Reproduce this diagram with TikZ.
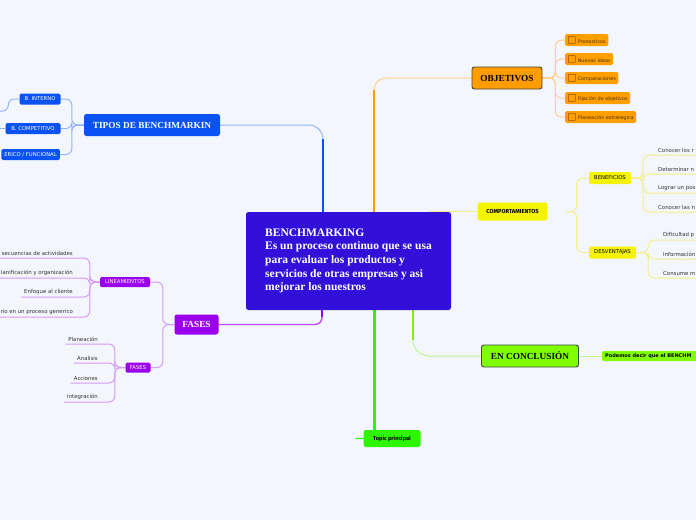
\documentclass[tikz,border=0pt]{standalone}
\usepackage{fontspec}
\setmainfont{Liberation Serif}
\setsansfont{DejaVu Sans}
\newfontfamily\firafont{Fira Sans}
\usepackage{tikz}
\usetikzlibrary{backgrounds}
\definecolor{bgcol}{HTML}{F3F6FD}
\definecolor{centfill}{HTML}{3210D9}
\definecolor{tipblue}{HTML}{0A52F2}
\definecolor{bluelite}{HTML}{93B4F6}
\definecolor{objorange}{HTML}{FF9C00}
\definecolor{objfill}{HTML}{FFA000}
\definecolor{objdark}{HTML}{B86B00}
\definecolor{objtext}{HTML}{4A3000}
\definecolor{objlite}{HTML}{FFD08A}
\definecolor{compyel}{HTML}{F4F400}
\definecolor{yellite}{HTML}{F4EE8C}
\definecolor{fasviol}{HTML}{9B00EE}
\definecolor{violite}{HTML}{D59AF5}
\definecolor{econlime}{HTML}{80FF00}
\definecolor{limetrunk}{HTML}{86EE10}
\definecolor{limelite}{HTML}{BFF58A}
\definecolor{topgreen}{HTML}{2EF500}
\definecolor{boxedge}{HTML}{444444}
\definecolor{itemgray}{HTML}{333333}
\newcommand{\tickbox}{{\fboxsep=0pt\fboxrule=0.7pt\fcolorbox{objdark}{objfill}{\rule{0pt}{6.2pt}\hspace{6.2pt}}}}
\tikzset{
  centrebox/.style={rectangle, rounded corners=2.5pt, fill=centfill, text=white,
    font=\bfseries\fontsize{11.5}{13.6}\selectfont, align=left,
    minimum width=205pt, minimum height=98pt},
  mainbox/.style={rectangle, rounded corners=2.5pt, inner sep=0pt,
    font=\bfseries\fontsize{9.3}{11}\selectfont, minimum height=22pt},
  subbox/.style={rectangle, rounded corners=1.5pt, inner xsep=3pt, inner ysep=0pt,
    font=\sffamily\fontsize{5.3}{6.5}\selectfont, minimum height=11pt},
  objbox/.style={subbox, fill=objfill, text=objtext, anchor=west, minimum height=12pt,
    inner xsep=2.5pt, font=\sffamily\fontsize{4.9}{6}\selectfont},
  itemtext/.style={font=\sffamily\fontsize{5.4}{6.5}\selectfont, text=itemgray,
    inner xsep=3pt, inner ysep=2pt},
  thinlink/.style={line width=1pt, rounded corners=6pt},
  trunk/.style={line width=2.8pt},
}
\begin{document}
\begin{tikzpicture}[x=1pt, y=-1pt]
  \useasboundingbox (0,0) rectangle (696,520);
  \begin{scope}[on background layer]
    \fill[bgcol] (0,0) rectangle (696,520);
  \end{scope}

  \node[centrebox] (centre) at (348.5,261)
    {BENCHMARKING\\Es un proceso continuo que se usa\\para evaluar los productos y\\servicios de otras empresas y asi\\mejorar los nuestros};

  \node[mainbox, fill=tipblue, text=white, minimum width=136pt] (tipos) at (152,125) {TIPOS DE BENCHMARKIN};
  \node[subbox, fill=tipblue, text=white, minimum width=41pt] (binterno) at (40,99) {B. INTERNO};
  \node[subbox, fill=tipblue, text=white, minimum width=55pt] (bcompet) at (33,128.5) {B. COMPETITIVO};
  \node[subbox, fill=tipblue, text=white, anchor=east] (bgener) at (60,154.5) {ERICO / FUNCIONAL};
  \coordinate (bintout) at (-10,111);
  \coordinate (bcompout) at (-10,128.5);

  \node[mainbox, fill=objorange, draw=boxedge, line width=0.9pt, minimum width=70pt] (objet) at (507,78) {OBJETIVOS};
  \node[objbox] (opron) at (565,40) {\tickbox\hspace{2.5pt}Pronosticos};
  \node[objbox] (onuev) at (565,59) {\tickbox\hspace{2.5pt}Nuevas ideas};
  \node[objbox] (ocomp) at (565,78) {\tickbox\hspace{2.5pt}Comparaciones};
  \node[objbox] (ofija) at (565,98) {\tickbox\hspace{2.5pt}Fijación de objetivos};
  \node[objbox] (oplan) at (565,117) {\tickbox\hspace{2.5pt}Planeación estrategica};

  \node[mainbox, fill=compyel, font=\firafont\bfseries\fontsize{5.8}{7}\selectfont, minimum width=70pt, minimum height=18pt] (comport) at (512.5,211.5) {COMPORTAMIENTOS};
  \node[subbox, fill=compyel, minimum width=42pt, minimum height=12pt] (benef) at (610,178) {BENEFICIOS};
  \node[subbox, fill=compyel, minimum width=47pt, minimum height=12pt] (desvent) at (612.5,252.5) {DESVENTAJAS};
  \node[itemtext, anchor=south west] (ben1) at (655,155) {Conocer los r};
  \node[itemtext, anchor=south west] (ben2) at (655,174) {Determinar n};
  \node[itemtext, anchor=south west] (ben3) at (655,193) {Lograr un pos};
  \node[itemtext, anchor=south west] (ben4) at (655,212) {Conocer las n};
  \node[itemtext, anchor=south west] (des1) at (660,240) {Dificultad p};
  \node[itemtext, anchor=south west] (des2) at (660,259) {Información};
  \node[itemtext, anchor=south west] (des3) at (660,278) {Consume m};

  \node[mainbox, fill=fasviol, text=white, minimum width=44pt, minimum height=20pt] (fases) at (196.5,324.5) {FASES};
  \node[subbox, fill=fasviol, text=white, minimum width=50pt, minimum height=10pt] (lineam) at (125,282) {LINEAMIENTOS};
  \node[subbox, fill=fasviol, text=white, minimum width=25pt, minimum height=10pt] (fasesub) at (138,367.5) {FASES};
  \node[itemtext, anchor=south east] (lin1) at (76,258) {secuencias de actividades};
  \node[itemtext, anchor=south east] (lin2) at (76,278) {lanificación y organización};
  \node[itemtext, anchor=south east] (lin3) at (76,297) {Enfoque al cliente};
  \node[itemtext, anchor=south east] (lin4) at (76,317) {rio en un proceso generico};
  \node[itemtext, anchor=south east] (fs1) at (101,344) {Planeación};
  \node[itemtext, anchor=south east] (fs2) at (101,363) {Analisis};
  \node[itemtext, anchor=south east] (fs3) at (101,383) {Acciones};
  \node[itemtext, anchor=south east] (fs4) at (101,402) {Integración};

  \node[mainbox, fill=econlime, draw=boxedge, line width=0.9pt, minimum width=97pt] (concl) at (530,356) {EN CONCLUSIÓN};
  \node[subbox, fill=econlime, font=\sffamily\bfseries\fontsize{5}{6}\selectfont, anchor=west, text width=110pt, minimum height=10pt] (podemos) at (602,356) {Podemos decir que el BENCHM};

  \node[mainbox, fill=topgreen, font=\firafont\bfseries\fontsize{5.6}{7}\selectfont, minimum width=57pt, minimum height=17pt] (topic) at (392,438.5) {Topic principal};

  \begin{scope}[on background layer]
    \draw[thinlink, bluelite, rounded corners=14pt] (tipos.east) -| ([xshift=-25.5pt]centre.north);
    \draw[trunk, tipblue] ([xshift=-25.5pt]centre.north) -- ++(0,-73);
    \draw[thinlink, objlite, rounded corners=12pt] ([xshift=25.5pt]centre.north) |- (objet.west);
    \draw[trunk, objorange] ([xshift=25.5pt]centre.north) -- ++(0,-122);
    \draw[thinlink, yellite] ([xshift=-22pt,yshift=0.5pt]centre.north east) -- (comport.west);
    \draw[thinlink, fasviol!70, line width=1.4pt, rounded corners=7pt] ([xshift=-26.5pt]centre.south) |- (fases.east);
    \draw[trunk, fasviol] ([xshift=-26.5pt]centre.south) -- ++(0,7);
    \draw[thinlink, limelite, rounded corners=16pt] ([xshift=64.5pt]centre.south) |- (concl.west);
    \draw[trunk, limetrunk] ([xshift=64.5pt]centre.south) -- ++(0,30);
    \draw[thinlink, topgreen, line width=1.4pt, rounded corners=6pt] ([xshift=26pt]centre.south) |- ([xshift=-8pt]topic.west);
    \draw[trunk, topgreen] ([xshift=26pt]centre.south) -- ++(0,122);

    \foreach \c in {binterno, bcompet, bgener}
      \draw[thinlink, bluelite] (tipos.west) -- ++(-12,0) |- (\c.east);
    \draw[thinlink, bluelite] (binterno.west) -- ++(-11,0) |- (bintout);
    \draw[thinlink, bluelite] (bcompet.west) -- (bcompout);

    \foreach \c in {opron, onuev, ocomp, ofija, oplan}
      \draw[thinlink, objlite] (objet.east) -- ++(13,0) |- (\c.west);

    \foreach \c in {benef, desvent}
      \draw[thinlink, yellite] ([xshift=19pt]comport.east) -- ++(10,0) |- (\c.west);
    \foreach \c in {ben1, ben2, ben3, ben4}
      \draw[thinlink, yellite] (benef.east) -- ++(12,0) |- (\c.south west) -- (\c.south east);
    \foreach \c in {des1, des2, des3}
      \draw[thinlink, yellite] (desvent.east) -- ++(12,0) |- (\c.south west) -- (\c.south east);

    \foreach \c in {lineam, fasesub}
      \draw[thinlink, violite] (fases.west) -- ++(-11.5,0) |- (\c.east);
    \foreach \c in {lin1, lin2, lin3, lin4}
      \draw[thinlink, violite] (lineam.west) -- ++(-10,0) |- (\c.south east) -- (\c.south west);
    \foreach \c in {fs1, fs2, fs3, fs4}
      \draw[thinlink, violite] (fasesub.west) -- ++(-10.5,0) |- (\c.south east) -- (\c.south west);

    \draw[thinlink, limelite] (concl.east) -- (podemos.west);
  \end{scope}
\end{tikzpicture}
\end{document}
